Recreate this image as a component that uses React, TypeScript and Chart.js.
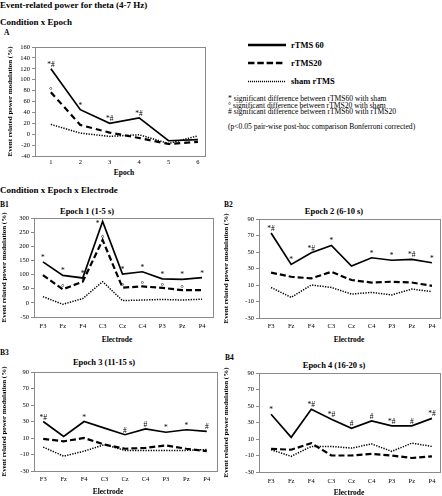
import React, { useEffect, useRef } from "react";
import { Chart, registerables } from "chart.js";

Chart.register(...registerables);

const FONT = '"Liberation Serif", "Times New Roman", serif';

// ---------- Panel A: Condition x Epoch ----------
const epochs = ["1", "2", "3", "4", "5", "6"];
const aRTMS60 = [120, 45, 20, 30, -12, -10];
const aRTMS20 = [77, 17, 3, -7, -18, -14];
const aSham = [18, 2, -4, -1, -17, -3];
const aSig60 = ["*#", "*", "*#", "*#", "", ""];
const aSig20 = ["°", "", "", "", "", ""];

// ---------- Panels B: Condition x Epoch x Electrode ----------
const electrodes = ["F3", "Fz", "F4", "C3", "Cz", "C4", "P3", "Pz", "P4"];

const b1RTMS60 = [145, 97, 88, 288, 102, 110, 85, 83, 89];
const b1RTMS20 = [98, 48, 75, 222, 54, 58, 53, 45, 45];
const b1Sham = [22, -5, 15, 75, 8, 10, 12, 10, 13];
const b1Sig60 = ["*", "*", "*", "*", "*", "*", "*", "*", "*"];
const b1Sig20 = ["", "°", "°", "°", "°", "°", "°", "°", ""];

const b2RTMS60 = [73, 35, 49, 58, 33, 43, 40, 41, 37];
const b2RTMS20 = [25, 20, 18, 26, 16, 13, 14, 13, 9];
const b2Sham = [7, -5, 10, 7, -1, 1, -2, 5, 2];
const b2Sig60 = ["*#", "*", "*#", "*", "", "*", "*", "*#", "*"];
const b2Sig20 = ["", "", "", "", "", "", "", "", ""];

const b3RTMS60 = [30, 12, 30, 22, 14, 21, 17, 20, 18];
const b3RTMS20 = [9, 6, 10, 2, -3, -2, 1, -3, -6];
const b3Sham = [-1, -12, -6, 2, -5, -5, -5, -5, -4];
const b3Sig60 = ["*#", "", "*", "", "#", "#", "*", "*", "#"];
const b3Sig20 = ["", "", "", "", "", "", "", "", ""];

const b4RTMS60 = [40, 12, 46, 34, 23, 32, 26, 26, 35];
const b4RTMS20 = [-2, -3, 5, -10, -10, -8, -10, -13, -11];
const b4Sham = [-3, -11, 1, 1, -1, 4, -5, 5, 1];
const b4Sig60 = ["*", "", "*#", "*#", "#", "#", "*#", "#", "*#"];
const b4Sig20 = ["", "", "", "", "", "", "", "", ""];

const yTitle = "Event related power modulation (%)";

type Spec = {
  left: number; top: number; width: number; height: number;
  plotLeft: number; plotRight: number; plotTop: number; plotBottom: number;
  labels: string[]; xStart: number; xMin: number; xMax: number;
  yMin: number; yMax: number; yStep: number;
  s60: number[]; s20: number[]; sham: number[];
  sig60: string[]; sig20: string[];
  dash: number[]; xPad: number; titlePad: number;
};

const boxAndMarks = {
  id: "boxAndMarks",
  beforeDatasetsDraw(chart: any) {
    const { ctx, chartArea: a } = chart;
    ctx.save();
    ctx.strokeStyle = "#8a8a8a";
    ctx.lineWidth = 1;
    ctx.strokeRect(Math.round(a.left) + 0.5, Math.round(a.top) + 0.5, Math.round(a.right - a.left), Math.round(a.bottom - a.top));
    ctx.restore();
  },
  afterDatasetsDraw(chart: any, _args: any, opts: any) {
    const { ctx, chartArea: a } = chart;
    const sets = (opts && opts.sets) || [];
    ctx.save();
    ctx.fillStyle = "#000";
    ctx.textAlign = "center";
    ctx.textBaseline = "alphabetic";
    sets.forEach((s: any) => {
      const meta = chart.getDatasetMeta(s.dataset);
      s.labels.forEach((lab: string, i: number) => {
        if (!lab) return;
        const p = meta.data[i];
        if (!p) return;
        if (lab === "°") {
          ctx.font = `9px ${FONT}`;
          ctx.fillText(lab, p.x, p.y + 1);
        } else {
          ctx.font = `7.5px ${FONT}`;
          let x = p.x;
          let y = p.y - 2;
          // keep marks inside the plot box when a point touches its top
          if (y - 6 < a.top) {
            y = a.top + 8;
            x = p.x - 5;
          }
          ctx.fillText(lab, x, y);
        }
      });
    });
    ctx.restore();
  },
};

function ChartBox({ spec }: { spec: Spec }) {
  const ref = useRef<HTMLCanvasElement | null>(null);
  useEffect(() => {
    if (!ref.current) return;
    const s = spec;
    const pts = (arr: number[]) => arr.map((v, i) => ({ x: i + s.xStart, y: v }));
    const chart = new Chart(ref.current, {
      type: "line",
      data: {
        datasets: [
          { label: "rTMS 60", data: pts(s.s60), borderColor: "#000", borderWidth: 1.7, pointRadius: 0, tension: 0 },
          { label: "rTMS20", data: pts(s.s20), borderColor: "#000", borderWidth: 2.2, borderDash: s.dash, pointRadius: 0, tension: 0 },
          { label: "sham rTMS", data: pts(s.sham), borderColor: "#000", borderWidth: 1.5, borderDash: [1.3, 1.3], pointRadius: 0, tension: 0 },
        ],
      },
      options: {
        animation: false,
        responsive: false,
        devicePixelRatio: 1,
        layout: {
          padding: { left: 0, bottom: 0, top: s.plotTop - s.top, right: s.left + s.width - s.plotRight },
        },
        plugins: {
          legend: { display: false },
          tooltip: { enabled: false },
          boxAndMarks: {
            sets: [
              { dataset: 0, labels: s.sig60 },
              { dataset: 1, labels: s.sig20 },
            ],
          },
        } as any,
        scales: {
          x: {
            type: "linear",
            min: s.xMin,
            max: s.xMax,
            grid: { display: false, drawTicks: false, tickLength: 0 },
            border: { display: false },
            afterBuildTicks: (sc: any) => {
              sc.ticks = s.labels.map((_, i) => ({ value: i + s.xStart }));
            },
            afterFit: (sc: any) => {
              sc.height = s.top + s.height - s.plotBottom;
            },
            ticks: {
              autoSkip: false,
              maxRotation: 0,
              padding: s.xPad,
              color: "#000",
              font: { size: 6.5, family: FONT },
              callback: (v: any) => s.labels[Math.round(Number(v) - s.xStart)] ?? "",
            },
          },
          y: {
            type: "linear",
            min: s.yMin,
            max: s.yMax,
            grid: { display: true, drawOnChartArea: false, drawTicks: true, tickLength: 3, color: "#8a8a8a" },
            border: { display: false },
            afterFit: (sc: any) => {
              sc.width = s.plotLeft - s.left;
            },
            ticks: {
              stepSize: s.yStep,
              padding: 2,
              color: "#000",
              font: { size: 6.5, family: FONT },
              callback: (v: any) => String(v),
            },
            title: {
              display: true,
              text: yTitle,
              color: "#000",
              padding: { top: s.titlePad, bottom: 0 },
              font: { size: 7, weight: "bold", family: FONT },
            },
          },
        },
      },
      plugins: [boxAndMarks as any],
    } as any);
    return () => chart.destroy();
  }, [spec]);
  return (
    <canvas
      ref={ref}
      width={spec.width}
      height={spec.height}
      style={{ position: "absolute", left: spec.left, top: spec.top, width: spec.width, height: spec.height }}
    />
  );
}

const specA: Spec = {
  left: 4, top: 39, width: 203, height: 126,
  plotLeft: 35, plotRight: 205, plotTop: 47, plotBottom: 156,
  labels: epochs, xStart: 1, xMin: 0.46, xMax: 6.24,
  yMin: -40, yMax: 160, yStep: 20,
  s60: aRTMS60, s20: aRTMS20, sham: aSham, sig60: aSig60, sig20: aSig20,
  dash: [6, 4], xPad: 2, titlePad: 2,
};
const specB1: Spec = {
  left: 0, top: 210, width: 215, height: 124,
  plotLeft: 34, plotRight: 213, plotTop: 218, plotBottom: 317,
  labels: electrodes, xStart: 0, xMin: -0.45, xMax: 8.55,
  yMin: -50, yMax: 300, yStep: 50,
  s60: b1RTMS60, s20: b1RTMS20, sham: b1Sham, sig60: b1Sig60, sig20: b1Sig20,
  dash: [6, 3], xPad: 5, titlePad: 0,
};
const specB2: Spec = {
  left: 222, top: 211, width: 220, height: 123,
  plotLeft: 259, plotRight: 440, plotTop: 219, plotBottom: 318,
  labels: electrodes, xStart: 0, xMin: -0.6, xMax: 8.4,
  yMin: -30, yMax: 90, yStep: 10,
  s60: b2RTMS60, s20: b2RTMS20, sham: b2Sham, sig60: b2Sig60, sig20: b2Sig20,
  dash: [6, 3], xPad: 4, titlePad: 0,
};
const specB3: Spec = {
  left: 0, top: 364, width: 219, height: 124,
  plotLeft: 34, plotRight: 217, plotTop: 372, plotBottom: 471,
  labels: electrodes, xStart: 0, xMin: -0.45, xMax: 8.5,
  yMin: -30, yMax: 90, yStep: 10,
  s60: b3RTMS60, s20: b3RTMS20, sham: b3Sham, sig60: b3Sig60, sig20: b3Sig20,
  dash: [6, 3], xPad: 4, titlePad: 0,
};
const specB4: Spec = {
  left: 222, top: 365, width: 220, height: 124,
  plotLeft: 259, plotRight: 440, plotTop: 373, plotBottom: 472,
  labels: electrodes, xStart: 0, xMin: -0.6, xMax: 8.4,
  yMin: -30, yMax: 90, yStep: 10,
  s60: b4RTMS60, s20: b4RTMS20, sham: b4Sham, sig60: b4Sig60, sig20: b4Sig20,
  dash: [6, 3], xPad: 5, titlePad: 0,
};

function T({ x, y, text, size, bold, center }: { x: number; y: number; text: string; size: number; bold?: boolean; center?: boolean }) {
  return (
    <div
      style={{
        position: "absolute",
        left: x,
        top: y,
        transform: center ? "translate(-50%, -50%)" : "translate(0, -50%)",
        fontFamily: FONT,
        fontSize: size,
        fontWeight: bold ? "bold" : "normal",
        lineHeight: 1,
        whiteSpace: "nowrap",
        color: "#000",
      }}
    >
      {text}
    </div>
  );
}

export default function App() {
  return (
    <div style={{ position: "fixed", left: 0, top: 0, width: 442, height: 496, background: "#fff", overflow: "hidden" }}>
      <T x={0} y={5} text="Event-related power for theta (4-7 Hz)" size={9} bold />
      <T x={0} y={22} text="Condition x Epoch" size={9} bold />
      <T x={4} y={33} text="A" size={7.5} bold />
      <T x={0} y={190} text="Condition x Epoch x Electrode" size={9} bold />
      <T x={0} y={205} text="B1" size={7.5} bold />
      <T x={224} y={205} text="B2" size={7.5} bold />
      <T x={0} y={353} text="B3" size={7.5} bold />
      <T x={225} y={358} text="B4" size={7.5} bold />

      <T x={87} y={211} text="Epoch 1 (1-5 s)" size={8.5} bold center />
      <T x={334} y={211} text="Epoch 2 (6-10 s)" size={8.5} bold center />
      <T x={104} y={362} text="Epoch 3 (11-15 s)" size={8.5} bold center />
      <T x={334} y={365} text="Epoch 4 (16-20 s)" size={8.5} bold center />

      <ChartBox spec={specA} />
      <ChartBox spec={specB1} />
      <ChartBox spec={specB2} />
      <ChartBox spec={specB3} />
      <ChartBox spec={specB4} />

      <T x={124} y={173} text="Epoch" size={7.5} bold center />
      <T x={117} y={340} text="Electrode" size={7.5} bold center />
      <T x={349} y={340} text="Electrode" size={7.5} bold center />
      <T x={108} y={492} text="Electrode" size={7.5} bold center />
      <T x={349} y={493} text="Electrode" size={7.5} bold center />

      <svg style={{ position: "absolute", left: 246, top: 38 }} width={44} height={50}>
        <line x1={2} y1={7} x2={40} y2={7} stroke="#000" strokeWidth={2.5} />
        <line x1={2} y1={25} x2={38} y2={25} stroke="#000" strokeWidth={2.5} strokeDasharray="6.5 2.8" />
        <line x1={2} y1={43.5} x2={40} y2={43.5} stroke="#000" strokeWidth={1.6} strokeDasharray="1.1 0.9" />
      </svg>
      <T x={291} y={45} text="rTMS 60" size={8.5} bold />
      <T x={291} y={63} text="rTMS20" size={8.5} bold />
      <T x={291} y={81} text="sham rTMS" size={8.5} bold />

      <T x={228} y={99} text="* significant difference between rTMS60 with sham" size={7.6} />
      <T x={228} y={105.5} text="° significant difference between rTMS20 with sham" size={7.6} />
      <T x={228} y={112} text="# significant difference between rTMS60 with rTMS20" size={7.6} />
      <T x={228} y={127} text="(p<0.05 pair-wise post-hoc comparison Bonferroni corrected)" size={7.6} />
    </div>
  );
}
